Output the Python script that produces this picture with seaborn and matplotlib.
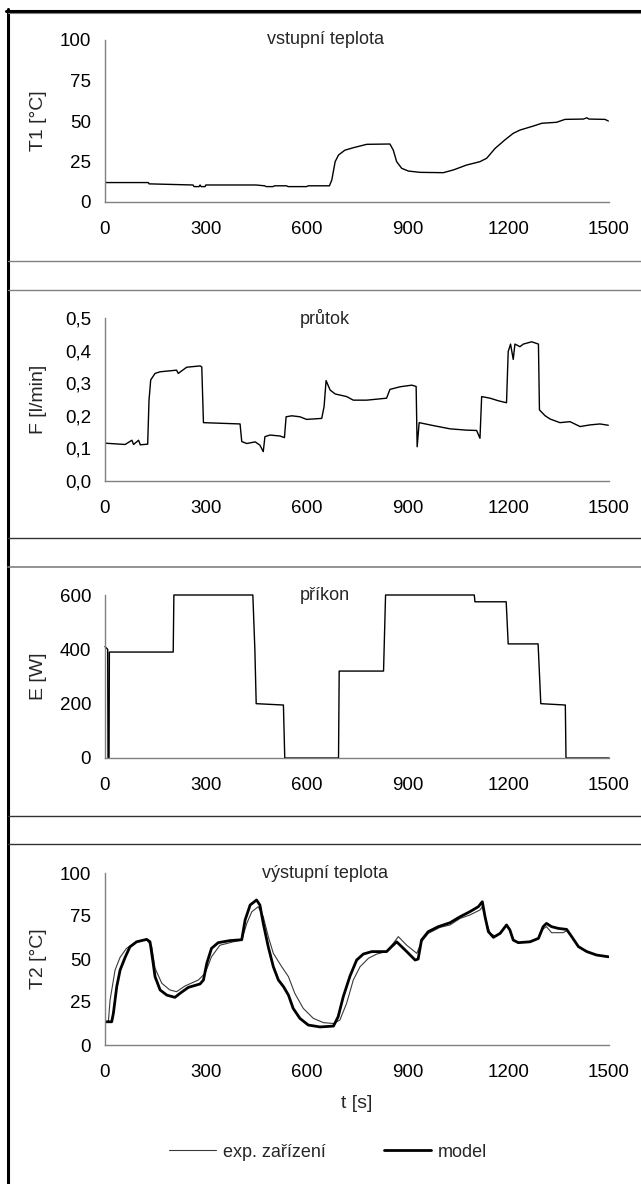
import matplotlib
matplotlib.use("Agg")
import matplotlib.pyplot as plt
import seaborn as sns
from matplotlib.lines import Line2D

sns.set_style("white")
plt.rcParams["font.family"] = ["Liberation Sans", "DejaVu Sans"]

# time axis shared by all four panels
X_TICKS = [0, 300, 600, 900, 1200, 1500]

# vstupni teplota T1 [C]
T1_TIME = [0, 2, 129, 131, 262, 265, 280, 283, 286, 298, 300, 449, 475, 480,
           500, 505, 540, 545, 600, 605, 668, 675, 685, 695, 714, 739, 779,
           848, 858, 868, 883, 903, 938, 1007, 1037, 1076, 1116, 1136, 1161,
           1190, 1215, 1235, 1275, 1300, 1344, 1369, 1424, 1434, 1440, 1488, 1498]
T1_VALS = [13.5, 12, 12, 11.2, 10.5, 9.5, 9.5, 10.5, 9.5, 9.5, 10.5, 10.5, 10, 9.5,
           9.5, 10, 10, 9.5, 9.5, 10, 10, 13.6, 24.9, 29, 32, 33.5, 35.6,
           35.8, 32, 24.9, 20.8, 19.1, 18.3, 18.1, 19.8, 22.8, 24.9, 27, 33.1,
           38.3, 42.4, 44.4, 46.9, 48.6, 49.2, 51, 51.2, 52, 51.2, 51, 50]

# prutok F [l/min]
F_TIME = [0, 60, 80, 85, 100, 105, 127, 131, 136, 149, 164, 213, 218, 243, 283, 288,
          293, 402, 407, 422, 447, 461, 471, 476, 491, 521, 534, 539, 556, 580, 600,
          645, 652, 658, 670, 685, 719, 739, 779, 838, 848, 878, 913, 926, 929, 935,
          977, 1027, 1076, 1106, 1116, 1121, 1146, 1171, 1195, 1200, 1207, 1215, 1220,
          1235, 1245, 1270, 1290, 1293, 1310, 1325, 1354, 1384, 1414, 1443, 1473, 1498]
F_VALS = [0.116, 0.112, 0.125, 0.112, 0.125, 0.111, 0.113, 0.248, 0.31, 0.33, 0.335,
          0.34, 0.33, 0.349, 0.353, 0.35, 0.179, 0.175, 0.121, 0.115, 0.12, 0.11, 0.09,
          0.136, 0.141, 0.138, 0.133, 0.197, 0.2, 0.197, 0.189, 0.192, 0.228, 0.308,
          0.279, 0.267, 0.259, 0.248, 0.248, 0.254, 0.281, 0.289, 0.294, 0.29, 0.105,
          0.179, 0.17, 0.16, 0.156, 0.155, 0.131, 0.259, 0.254, 0.246, 0.24, 0.397,
          0.42, 0.373, 0.42, 0.412, 0.42, 0.427, 0.42, 0.218, 0.2, 0.19, 0.179, 0.182,
          0.167, 0.172, 0.175, 0.171]

# prikon E [W]
E_TIME = [0, 8, 9, 12, 13, 203, 205, 440, 446, 450, 531, 535, 695, 697, 829, 835,
          1099, 1101, 1194, 1200, 1289, 1297, 1370, 1372, 1500]
E_VALS = [410, 400, 0, 0, 390, 390, 600, 600, 400, 200, 195, 0, 0, 320, 320, 600,
          600, 575, 575, 420, 420, 200, 195, 0, 0]

# vystupni teplota T2 [C], model
MODEL_TIME = [0, 20, 25, 35, 45, 60, 74, 94, 124, 134, 142, 149, 164, 184, 208, 223,
              248, 283, 293, 303, 317, 337, 372, 407, 417, 432, 451, 461, 471, 486,
              501, 516, 531, 546, 560, 580, 605, 640, 680, 694, 709, 729, 749, 769,
              794, 838, 853, 868, 898, 923, 932, 942, 962, 992, 1027, 1057, 1086,
              1111, 1123, 1131, 1141, 1156, 1176, 1195, 1205, 1215, 1230, 1265, 1290,
              1304, 1314, 1329, 1349, 1374, 1389, 1409, 1434, 1463, 1498]
MODEL_VALS = [13.5, 13.5, 18.5, 34, 43.6, 51, 57, 60, 61.4, 60, 49.4, 39.7, 32, 29,
              27.7, 30, 33.5, 35.5, 37.8, 47.5, 56.2, 59.5, 60.7, 61.2, 72.7, 81.4,
              84.3, 81.4, 70.7, 57, 45.5, 37.8, 34, 29, 21.3, 15.5, 11.6, 10.5, 11,
              16.5, 28, 40, 49.4, 52.9, 54.3, 54.3, 57.2, 60, 54.3, 49.4, 50, 61,
              65.9, 68.8, 71.1, 74.6, 77.5, 80.4, 83.3, 74.6, 65.9, 62.6, 64.9, 69.8,
              66.9, 61, 59.5, 60, 62, 68.8, 70.7, 68.8, 67.8, 67.2, 63, 57.2, 54.3,
              52.3, 51.3]

# vystupni teplota T2 [C], exp. zarizeni
EXP_TIME = [0, 10, 15, 30, 45, 64, 89, 124, 139, 149, 169, 193, 213, 238, 278, 298,
            317, 342, 382, 407, 422, 437, 456, 471, 486, 501, 526, 546, 565, 590, 620,
            650, 680, 699, 719, 739, 759, 784, 809, 838, 858, 873, 898, 928, 942, 962,
            997, 1027, 1057, 1086, 1116, 1123, 1136, 1146, 1161, 1176, 1195, 1205,
            1215, 1230, 1265, 1290, 1304, 1314, 1329, 1364, 1374, 1389, 1409, 1434,
            1463, 1498]
EXP_VALS = [13.5, 13.5, 26, 43.6, 51, 56.2, 59.5, 61.4, 57.2, 44.6, 35.9, 32, 31,
            34.3, 37.8, 41.7, 51.3, 58, 60, 61, 70.7, 77.5, 80.4, 74.6, 63, 53.3,
            45.5, 39.7, 30, 21.3, 15.5, 13, 12.5, 14.5, 24.2, 37.8, 45.5, 50.4, 52.9,
            54.3, 59.1, 63, 58, 53.3, 60, 64.9, 68.4, 69.8, 73.6, 75.6, 78.5, 80.4,
            70.7, 64.9, 63.4, 64.9, 69.5, 66.9, 61, 59.5, 60, 62, 67.5, 68.8, 65.3,
            65.3, 66.5, 63, 57.2, 54.3, 52.3, 51.3]

TEMP_TICKS = [0, 25, 50, 75, 100]
F_TICKS = [0.0, 0.1, 0.2, 0.3, 0.4, 0.5]
F_TICK_LABELS = ["0,0", "0,1", "0,2", "0,3", "0,4", "0,5"]
E_TICKS = [0, 200, 400, 600]

GREY = "#808080"


def style_axis(ax, ylim, yticks, yticklabels, ylabel, title):
    ax.set_xlim(0, 1500)
    ax.set_ylim(*ylim)
    ax.set_xticks(X_TICKS)
    ax.set_xticklabels([str(t) for t in X_TICKS])
    ax.set_yticks(yticks)
    ax.set_yticklabels(yticklabels)
    for side in ["top", "right"]:
        ax.spines[side].set_visible(False)
    for side in ["left", "bottom"]:
        ax.spines[side].set_color(GREY)
        ax.spines[side].set_linewidth(1.0)
    ax.tick_params(direction="in", length=4, width=1, color=GREY,
                   labelsize=13.5, labelcolor="black")
    ax.tick_params(axis="x", pad=14)
    ax.tick_params(axis="y", pad=10)
    ax.set_xlabel("")
    ax.set_ylabel(ylabel, fontsize=14)
    ax.yaxis.set_label_coords(-0.115, 0.5)
    ax.text(0.437, 1.0, title, transform=ax.transAxes, ha="center", va="center",
            fontsize=13)


W, H = 641, 1184
fig = plt.figure(figsize=(W / 100, H / 100), dpi=100)
fig.patch.set_facecolor("white")


def add_panel(top_px, height_px):
    return fig.add_axes([105 / W, 1 - (top_px + height_px) / H, 504 / W, height_px / H])


ax1 = add_panel(40, 162)
sns.lineplot(x=T1_TIME, y=T1_VALS, ax=ax1, color="black", lw=1.0,
             estimator=None, sort=False)
style_axis(ax1, (0, 100), TEMP_TICKS, [str(v) for v in TEMP_TICKS],
           "T1 [°C]", "vstupní teplota")

ax2 = add_panel(318, 163)
sns.lineplot(x=F_TIME, y=F_VALS, ax=ax2, color="black", lw=1.0,
             estimator=None, sort=False)
style_axis(ax2, (0, 0.5), F_TICKS, F_TICK_LABELS, "F [l/min]", "průtok")

ax3 = add_panel(595, 163)
sns.lineplot(x=E_TIME, y=E_VALS, ax=ax3, color="black", lw=1.0,
             estimator=None, sort=False)
ax3.lines[-1].set_clip_on(False)
style_axis(ax3, (0, 600), E_TICKS, [str(v) for v in E_TICKS], "E [W]", "příkon")

ax4 = add_panel(873, 172)
sns.lineplot(x=EXP_TIME, y=EXP_VALS, ax=ax4, color="#3a3a3a", lw=0.8,
             estimator=None, sort=False, label="exp. zařízení")
sns.lineplot(x=MODEL_TIME, y=MODEL_VALS, ax=ax4, color="black", lw=2.0,
             estimator=None, sort=False, label="model")
style_axis(ax4, (0, 100), TEMP_TICKS, [str(v) for v in TEMP_TICKS],
           "T2 [°C]", "výstupní teplota")
ax4.set_xlabel("t [s]", fontsize=14)
ax4.xaxis.set_label_coords(0.5, -0.29)

handles, labels = ax4.get_legend_handles_labels()
ax4.get_legend().remove()
fig.legend(handles, labels, loc="center", bbox_to_anchor=(0.512, 0.027), ncol=2,
           frameon=False, fontsize=13, handlelength=2.6, handletextpad=0.4,
           columnspacing=3.2)

# page frame and separators between the panels
def hline(y_px, color, lw, x0_px=8):
    fig.add_artist(Line2D([x0_px / W, 1], [1 - y_px / H] * 2,
                          transform=fig.transFigure, color=color, lw=lw))


fig.add_artist(Line2D([7.5 / W] * 2, [0, 1 - 9 / H], transform=fig.transFigure,
                      color="black", lw=2.2))
hline(10.5, "black", 2.2, x0_px=6)
hline(13, GREY, 0.8)
hline(261, GREY, 1.0)
hline(289.5, GREY, 1.0)
hline(538, "#333333", 1.0)
hline(567, GREY, 1.2)
hline(815.5, "#333333", 1.0)
hline(844, "#333333", 1.0)

fig.savefig("out.png", dpi=100)
